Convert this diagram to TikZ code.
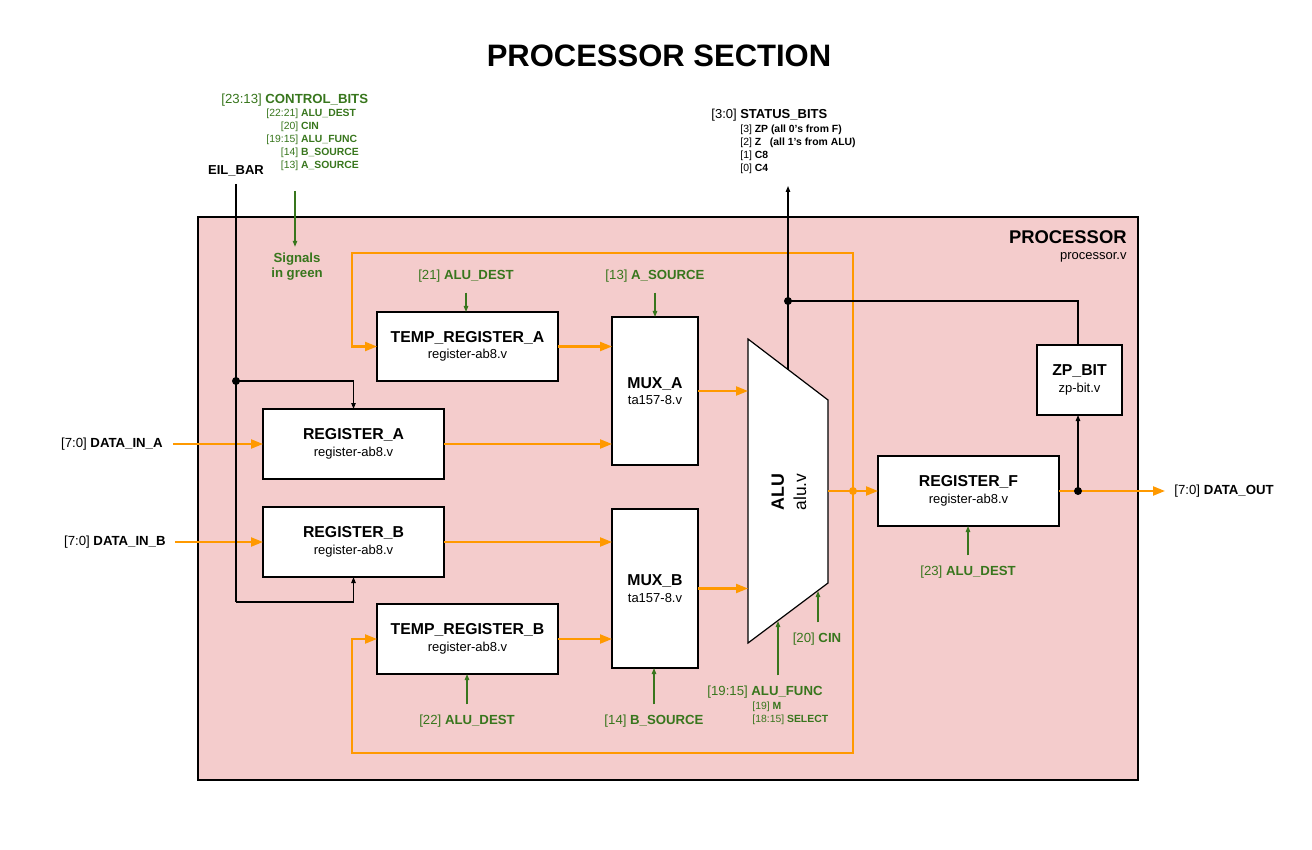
\documentclass[tikz,border=0pt]{standalone}
\usepackage{fontspec}
\setmainfont{Liberation Sans}
\usetikzlibrary{arrows.meta, positioning, calc}
\definecolor{ppink}  {RGB}{244,204,204}
\definecolor{borange}{RGB}{255,153,0}
\definecolor{sgreen} {RGB}{56,118,29}

\newcommand{\modlbl}[2]{{\fontsize{7.9}{9}\selectfont\bfseries #1}\\#2}

\begin{document}
\begin{tikzpicture}[x=0.5pt, y=-0.5pt,
  modbox/.style={draw, fill=white, line width=0.6pt, inner sep=0pt,
                 outer sep=0pt, align=center,
                 font=\fontsize{6.5}{8.2}\selectfont},
  bus/.style={borange, line width=1.1pt},
  busarrow/.style={bus, -{Triangle[length=6pt, width=4.5pt]}},
  ctl/.style={line width=0.6pt, -{Triangle[length=3pt, width=2.2pt]}},
  sig/.style={sgreen, line width=0.6pt, -{Triangle[length=3pt, width=2.2pt]}},
  lbl/.style={font=\fontsize{6.6}{8}\selectfont, inner sep=0pt},
  siglbl/.style={lbl, text=sgreen, inner ysep=5pt},
  sublbl/.style={font=\fontsize{5.2}{6.5}\selectfont, inner sep=0pt}]

  \useasboundingbox (0,0) rectangle (1312,850);
  \node[font=\fontsize{15.5}{18}\selectfont\bfseries] (title) at (659,56) {PROCESSOR SECTION};

  % processor frame
  \node[draw, line width=1pt, fill=ppink, anchor=north west, inner sep=0pt,
        minimum width=470pt, minimum height=281.5pt] (proc) at (197,216) {};
  \node[lbl, anchor=base east, font=\fontsize{9.2}{11}\selectfont\bfseries] (procname) at (1127,244) {PROCESSOR};
  \node[lbl, anchor=base east, font=\fontsize{6.5}{8}\selectfont] (procfile) at (1127,260) {processor.v};

  % modules
  \node[modbox, minimum width=90.5pt, minimum height=34.5pt] (tmpa) at (467.5,346.5) {\modlbl{TEMP\_REGISTER\_A}{register-ab8.v}};
  \node[modbox, minimum width=90.5pt, minimum height=35pt] (rega) at (353.5,444) {\modlbl{REGISTER\_A}{register-ab8.v}};
  \node[modbox, minimum width=90.5pt, minimum height=35pt] (regb) at (353.5,542) {\modlbl{REGISTER\_B}{register-ab8.v}};
  \node[modbox, minimum width=90.5pt, minimum height=35pt] (tmpb) at (467.5,639) {\modlbl{TEMP\_REGISTER\_B}{register-ab8.v}};
  \node[modbox, minimum width=43pt, minimum height=74pt] (mxa) at (655,391) {\modlbl{MUX\_A}{ta157-8.v}};
  \node[modbox, minimum width=43pt, minimum height=79.5pt] (mxb) at (655,588.5) {\modlbl{MUX\_B}{ta157-8.v}};
  \node[modbox, minimum width=90.5pt, minimum height=35pt] (regf) at (968.5,491) {\modlbl{REGISTER\_F}{register-ab8.v}};
  \node[modbox, minimum width=42.5pt, minimum height=35pt] (zpbit) at (1079.5,380) {\modlbl{ZP\_BIT}{zp-bit.v}};

  % ALU
  \coordinate (alutl) at (748,339);
  \coordinate (alutr) at (828,400);
  \coordinate (alubr) at (828,583);
  \coordinate (alubl) at (748,643);
  \draw[fill=white, line width=0.6pt] (alutl) -- (alutr) -- (alubr) -- (alubl) -- cycle;
  \node[rotate=90, align=center, inner sep=0pt, font=\fontsize{8.7}{11.2}\selectfont] (alu) at (789,492)
    {{\fontsize{8.9}{11}\selectfont\bfseries ALU}\\alu.v};
  \coordinate (aluout) at (828,491);
  \coordinate (alutop) at (788,369.5);
  \coordinate (alufn) at (778,621);
  \coordinate (alucin) at (818,591);

  % data buses
  \coordinate (fjunc) at (853,491);
  \coordinate (looptr) at (853,253);
  \coordinate (looptl) at (352,253);
  \coordinate (loopbr) at (853,753);
  \coordinate (loopbl) at (352,753);
  \draw[busarrow] (fjunc) -- (looptr) -- (looptl) |- (tmpa.west);
  \draw[busarrow] (fjunc) -- (loopbr) -- (loopbl) |- (tmpb.west);
  \draw[busarrow] (tmpa.east) -- (tmpa.east -| mxa.west);
  \draw[busarrow] (rega.east) -- (rega.east -| mxa.west);
  \draw[busarrow] (regb.east) -- (regb.east -| mxb.west);
  \draw[busarrow] (tmpb.east) -- (tmpb.east -| mxb.west);
  \draw[busarrow] (mxa.east) -- (mxa.east -| alutl);
  \draw[busarrow] (mxb.east) -- (mxb.east -| alutl);
  \draw[bus] (aluout) -- (fjunc);
  \draw[busarrow] (fjunc) -- (regf.west);
  \fill[borange] (fjunc) circle (2pt);

  % inputs and output
  \node[lbl, anchor=east, inner xsep=5pt] (dina) at (173,444) {[7:0] \textbf{DATA\_IN\_A}};
  \node[lbl, anchor=east, inner xsep=4.5pt] (dinb) at (175,542) {[7:0] \textbf{DATA\_IN\_B}};
  \draw[busarrow] (dina.east) -- (rega.west);
  \draw[busarrow] (dinb.east) -- (regb.west);
  \coordinate (outj) at (1078,491);
  \node[lbl, anchor=west, inner xsep=4.5pt] (dout) at (1165,491) {[7:0] \textbf{DATA\_OUT}};
  \draw[bus] (regf.east) -- (outj);
  \draw[busarrow] (outj) -- (dout.west);
  \draw[ctl] (outj) -- (outj |- zpbit.south);
  \fill (outj) circle (2pt);

  % status bits
  \coordinate (stj) at (788,301);
  \coordinate (statend) at (788,186);
  \draw[line width=0.6pt] (outj |- zpbit.north) |- (stj);
  \draw[ctl] (alutop) -- (statend);
  \fill (stj) circle (2pt);
  \node[lbl, anchor=base west, font=\fontsize{6.5}{8}\selectfont] (stathead) at (711,119) {[3:0] \textbf{STATUS\_BITS}};
  \node[sublbl, anchor=base west] (statbits) at (740,133) {\begin{tabular}[t]{@{}l@{}}
      {[3]} \textbf{ZP (all 0's from F)}\\
      {[2]} \textbf{Z\ \ \ (all 1's from ALU)}\\
      {[1]} \textbf{C8}\\
      {[0]} \textbf{C4}
    \end{tabular}};

  % EIL_BAR
  \node[lbl, anchor=south, inner ysep=4pt, font=\fontsize{6.5}{8}\selectfont\bfseries] (eil) at (236,184) {EIL\_BAR};
  \coordinate (eilj) at (236,381);
  \coordinate (eilbot) at (236,602);
  \draw[line width=0.6pt] (eil.south) -- (eilbot);
  \draw[ctl] (eilj) -| (rega.north);
  \draw[ctl] (eilbot) -| (regb.south);
  \fill (eilj) circle (2pt);

  % control bits
  \node[lbl, text=sgreen, anchor=base west] (ctlhead) at (221,104) {[23:13] \textbf{CONTROL\_BITS}};
  \node[sublbl, text=sgreen, anchor=base west] (ctlbits) at (266,117) {\begin{tabular}[t]{@{}r@{\ }l@{}}
      {[22:21]} & \textbf{ALU\_DEST}\\
      {[20]}    & \textbf{CIN}\\
      {[19:15]} & \textbf{ALU\_FUNC}\\
      {[14]}    & \textbf{B\_SOURCE}\\
      {[13]}    & \textbf{A\_SOURCE}
    \end{tabular}};
  \coordinate (ctlsrc) at (295,191);
  \node[siglbl, font=\fontsize{6.6}{7.6}\selectfont\bfseries, align=center, inner sep=3pt] (sigs) at (297,267) {Signals\\in green};
  \draw[sig] (ctlsrc) -- (ctlsrc |- sigs.north);

  \node[siglbl] (d21) at (466,276) {[21] \textbf{ALU\_DEST}};
  \node[siglbl] (asrc) at (655,276) {[13] \textbf{A\_SOURCE}};
  \node[siglbl] (d22) at (467,721) {[22] \textbf{ALU\_DEST}};
  \node[siglbl] (bsrc) at (654,721) {[14] \textbf{B\_SOURCE}};
  \node[siglbl] (d23) at (968,572) {[23] \textbf{ALU\_DEST}};
  \node[siglbl] (afunc) at (765,692) {[19:15] \textbf{ALU\_FUNC}};
  \node[siglbl] (cin) at (817,639) {[20] \textbf{CIN}};
  \node[sublbl, text=sgreen, anchor=base west] (afsub) at (752,709) {\begin{tabular}[t]{@{}l@{}}
      {[19]} \textbf{M}\\
      {[18:15]} \textbf{SELECT}
    \end{tabular}};
  \draw[sig] (d21.south) -- (d21.south |- tmpa.north);
  \draw[sig] (asrc.south) -- (asrc.south |- mxa.north);
  \draw[sig] (d22.north) -- (d22.north |- tmpb.south);
  \draw[sig] (bsrc.north) -- (bsrc.north |- mxb.south);
  \draw[sig] (d23.north) -- (d23.north |- regf.south);
  \draw[sig] (afunc.north -| alufn) -- (alufn);
  \draw[sig] (cin.north -| alucin) -- (alucin);
\end{tikzpicture}
\end{document}
